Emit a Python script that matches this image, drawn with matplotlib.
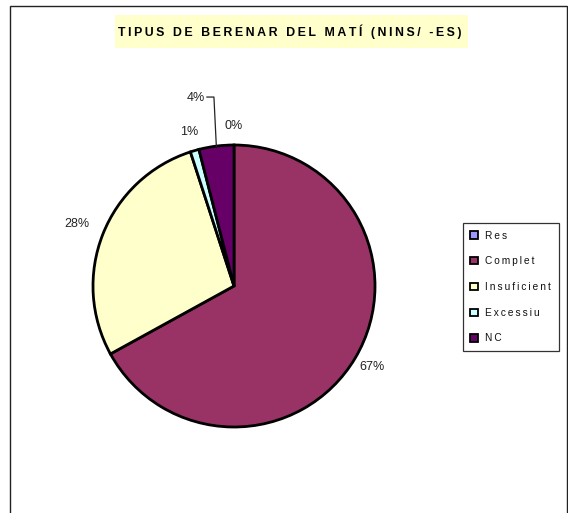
import numpy as np
import matplotlib
matplotlib.use("Agg")
import matplotlib.pyplot as plt
from matplotlib.patches import Rectangle

plt.rcParams['font.family'] = ['Liberation Sans', 'DejaVu Sans']

categories = ["Res", "Complet", "Insuficient", "Excessiu", "NC"]
values = [0, 67, 28, 1, 4]
pct_labels = ["0%", "67%", "28%", "1%", "4%"]
colors = ["#9999FF", "#993366", "#FFFFCC", "#CCFFFF", "#660066"]
title = "TIPUS DE BERENAR DEL MATÍ (NINS/ -ES)"

W, H = 568, 513
fig = plt.figure(figsize=(W / 100, H / 100), dpi=100)
ax = fig.add_axes([0, 0, 1, 1])

# outer chart frame
fig.patches.append(Rectangle((10 / W, -0.01), (566.5 - 10) / W, (H - 6) / H + 0.01,
                             transform=fig.transFigure, fill=False,
                             edgecolor='#222222', linewidth=1.0))

cx, cy, r = 234, H - 286, 141
wedges, _ = ax.pie(values, colors=colors, startangle=90, counterclock=False,
                   center=(cx, cy), radius=r, frame=True,
                   wedgeprops=dict(edgecolor='black', linewidth=2.0))
ax.set_xlim(0, W)
ax.set_ylim(0, H)
ax.set_aspect('equal')
ax.axis('off')

# percentage labels
ratios = [1.135, 1.135, 1.2, 1.14, None]
for w, lab, k in zip(wedges, pct_labels, ratios):
    mid = np.deg2rad((w.theta1 + w.theta2) / 2)
    if k is not None:
        ax.text(cx + r * k * np.cos(mid), cy + r * k * np.sin(mid), lab,
                ha='center', va='center', fontsize=9, color='#222222')
    else:
        # moved label with a leader line back to the slice
        ex, ey = cx + r * np.cos(mid), cy + r * np.sin(mid)
        lx, ly = cx - 0.27 * r, cy + 1.333 * r
        ax.text(lx, ly, lab, ha='center', va='center', fontsize=9, color='#222222')
        ax.plot([lx + 11, lx + 18, ex], [ly + 1, ly + 1, ey], color='#222222', lw=0.9)

# title with yellow background, letter-spaced
spaced = "\u2009".join(title)
ax.add_patch(Rectangle((115, H - 48), 468 - 115, 33, facecolor='#FFFFCC',
                       edgecolor='none', zorder=1))
ax.text(290, H - 32, spaced, ha='center', va='center', fontsize=8.9,
        fontweight='bold', color='black', zorder=2)

legend_labels = ["\u2009".join(c) for c in categories]
leg = ax.legend(wedges, legend_labels, loc='upper left', mode='expand',
                bbox_to_anchor=(462.5 / W, (H - 350) / H, 96.5 / W, 127 / H),
                bbox_transform=fig.transFigure,
                fontsize=7.3, frameon=True, fancybox=False, edgecolor='black',
                handlelength=0.75, handleheight=0.75, handletextpad=0.7,
                labelspacing=1.55, borderpad=0.75, borderaxespad=0)
leg.get_frame().set_linewidth(0.9)
for h in leg.legend_handles:
    h.set_linewidth(1.3)
for t in leg.get_texts():
    t.set_color('#111111')

fig.savefig("out.png", dpi=100)
